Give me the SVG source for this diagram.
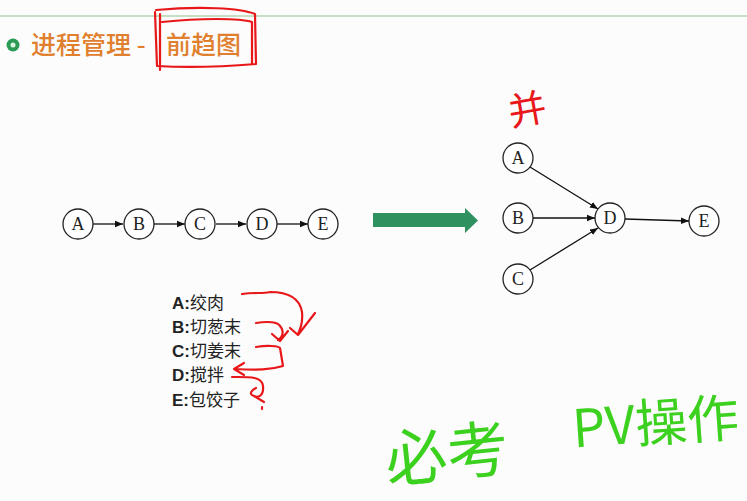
<svg xmlns="http://www.w3.org/2000/svg" width="747" height="501" viewBox="0 0 747 501">
<defs>
<marker id="ah" viewBox="0 0 10 10" refX="10" refY="5" markerWidth="8" markerHeight="8" markerUnits="userSpaceOnUse" orient="auto"><path d="M0,1 L10,5 L0,9 Z" fill="#111"/></marker>
</defs>
<style>
.n circle{fill:#fff;stroke:#222;stroke-width:1.3}
.n text{font-family:"Liberation Serif","DejaVu Serif",serif;font-size:18px;fill:#222;text-anchor:middle;dominant-baseline:central}
.e{stroke:#111;stroke-width:1.3;fill:none;marker-end:url(#ah)}
.lst{font-family:"Liberation Sans","Noto Sans CJK SC",sans-serif;font-size:17px;fill:#222}
.lst tspan.k{font-weight:bold}
.title{font-family:"Noto Sans CJK SC",sans-serif;font-size:25px;font-weight:500;fill:#e0802e}
.red{stroke:#e8171a;stroke-width:2.2;fill:none;stroke-linecap:round;stroke-linejoin:round}
.hw-g{font-family:"Noto Sans CJK SC",sans-serif;fill:#3bd11e}
</style>
<rect width="747" height="501" fill="#fcfcfc"/>
<line x1="0" y1="16" x2="747" y2="16" stroke="#8fbf8a" stroke-width="1.2"/>
<g id="title">
<circle cx="13" cy="45" r="6.5" fill="#2a9a55"/>
<circle cx="13" cy="45" r="2.5" fill="#dff3e4"/>
<text class="title" x="31" y="54">进程管理 -</text>
<text class="title" x="166" y="54">前趋图</text>
</g>
<g id="title-mark">
<path class="red" d="M156,10 C200,6 240,8 255,14 L256,64 C220,67 190,68 157,66 L155,12 M160,14 L160,70 M162,22 C200,18 240,18 252,22 L252,64"/>
</g>
<g id="chain-edges">
<line class="e" x1="93" y1="224" x2="123" y2="224"/>
<line class="e" x1="154" y1="224" x2="185" y2="224"/>
<line class="e" x1="216" y1="224" x2="246" y2="224"/>
<line class="e" x1="277" y1="224" x2="308" y2="224"/>
</g>
<g id="cA" class="n"><circle cx="78" cy="224" r="15"/><text x="78" y="224">A</text></g>
<g id="cB" class="n"><circle cx="139" cy="224" r="15"/><text x="139" y="224">B</text></g>
<g id="cC" class="n"><circle cx="200" cy="224" r="15"/><text x="200" y="224">C</text></g>
<g id="cD" class="n"><circle cx="262" cy="224" r="15"/><text x="262" y="224">D</text></g>
<g id="cE" class="n"><circle cx="323" cy="224" r="15"/><text x="323" y="224">E</text></g>
<g id="big-arrow">
<path d="M373,213 L465,213 L465,208 L478,220.5 L465,233 L465,227 L373,227 Z" fill="#2f9160"/>
</g>
<g id="graph-edges">
<line class="e" x1="530" y1="167" x2="598" y2="209"/>
<line class="e" x1="533" y1="218" x2="595" y2="218"/>
<line class="e" x1="530" y1="270" x2="598" y2="228"/>
<line class="e" x1="625" y1="219" x2="689" y2="221"/>
</g>
<g id="gA" class="n"><circle cx="518" cy="158" r="15"/><text x="518" y="158">A</text></g>
<g id="gB" class="n"><circle cx="518" cy="218" r="15"/><text x="518" y="218">B</text></g>
<g id="gC" class="n"><circle cx="518" cy="279" r="15"/><text x="518" y="279">C</text></g>
<g id="gD" class="n"><circle cx="610" cy="218" r="15"/><text x="610" y="218">D</text></g>
<g id="gE" class="n"><circle cx="704" cy="221" r="15"/><text x="704" y="221">E</text></g>
<g id="legend">
<text class="lst" x="172" y="309"><tspan class="k">A:</tspan>绞肉</text>
<text class="lst" x="172" y="333"><tspan class="k">B:</tspan>切葱末</text>
<text class="lst" x="172" y="357"><tspan class="k">C:</tspan>切姜末</text>
<text class="lst" x="172" y="381"><tspan class="k">D:</tspan>搅拌</text>
<text class="lst" x="172" y="406"><tspan class="k">E:</tspan>包饺子</text>
</g>
<g id="red-marks">
<path class="red" d="M242,294 C255,292 262,294 270,292 C290,292 300,300 302,312 C303,322 300,330 298,334 M290,328 L298,335 L315,313"/>
<path class="red" d="M256,323 C268,321 278,322 280,326 C285,332 282,338 278,340 M272,334 L280,341 L288,331"/>
<path class="red" d="M256,347 C268,345 278,346 280,348 L283,366 C270,370 258,370 234,369 M244,363 L234,369 L244,375"/>
<path class="red" d="M232,377 C248,377 262,376 263,386 C264,396 258,398 254,396 C248,394 252,390 256,388 M254,396 L264,402 M262,407 L262,409"/>
</g>
<text x="508" y="124" font-family="Noto Sans CJK SC,sans-serif" font-size="38" fill="#e8171a" transform="rotate(-10 523 108)">并</text>
<text class="hw-g" x="385" y="476" font-size="62" transform="rotate(-6 450 455)">必考</text>
<text class="hw-g" x="572" y="442" font-size="52" transform="rotate(-4 650 420)">PV操作</text>
</svg>
